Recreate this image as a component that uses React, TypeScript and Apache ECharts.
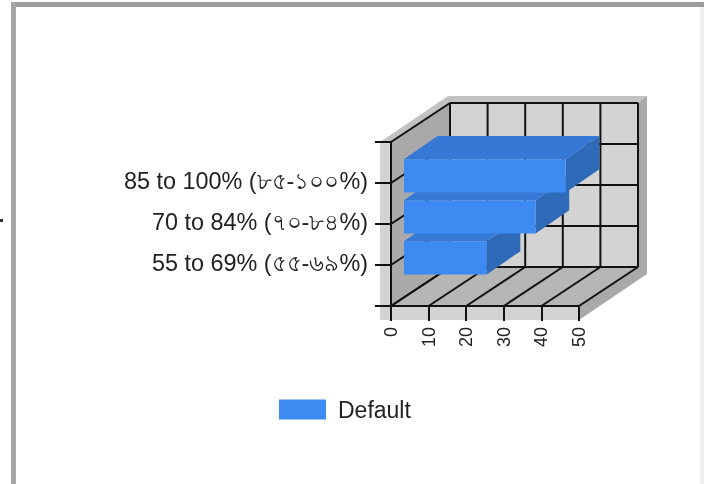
import React, { useEffect, useRef } from "react";
import * as echarts from "echarts";

const categories = ["", "55 to 69% (৫৫-৬৯%)", "70 to 84% (৭০-৮৪%)", "85 to 100% (৮৫-১০০%)", " "];
const seriesName = "Default";
const barValues = [22, 35, 43];
const barCategoryIndex = [1, 2, 3];
const xTicks = [0, 10, 20, 30, 40, 50];
const yTickIndex = [0, 1, 2, 3, 4];

const DX = 59;
const DY = -39;
const FONT = '"Liberation Sans", Arial, sans-serif';

function poly(points: number[][], fill: string) {
  return { type: "polygon", shape: { points }, style: { fill, stroke: "none" } };
}
function ln(a: number[], b: number[]) {
  return {
    type: "line",
    shape: { x1: a[0], y1: a[1], x2: b[0], y2: b[1] },
    style: { stroke: "#111", lineWidth: 2 },
  };
}

function renderFrame(_p: any, api: any) {
  const tl = api.coord([0, 4]);
  const bl = api.coord([0, 0]);
  const br = api.coord([50, 0]);
  const off = (p: number[], k = 1) => [p[0] + DX * k, p[1] + DY * k];
  const children: any[] = [
    poly([[tl[0] - 11, tl[1]], [tl[0], tl[1]], [bl[0], bl[1] + 14], [bl[0] - 11, bl[1] + 14]], "#d3d3d3"),
    poly([[bl[0] - 11, bl[1]], [br[0], br[1]], [br[0], br[1] + 14], [bl[0] - 11, bl[1] + 14]], "#d3d3d3"),
    poly(
      [
        [tl[0] - 11, tl[1]],
        [tl[0] + DX - 2, tl[1] + DY - 7],
        [br[0] + DX + 9, tl[1] + DY - 7],
        [br[0] + DX, tl[1] + DY],
        [tl[0] + DX, tl[1] + DY],
        [tl[0], tl[1]],
      ],
      "#c2c2c2",
    ),
    poly(
      [
        [br[0] + DX, tl[1] + DY],
        [br[0] + DX + 9, tl[1] + DY - 7],
        [br[0] + DX + 9, br[1] + DY + 7],
        [br[0], br[1] + 14],
        [br[0], br[1]],
        [br[0] + DX, br[1] + DY],
      ],
      "#a9a9a9",
    ),
    poly([tl, off(tl), off(bl), bl], "#a9a9a9"),
    poly([bl, off(bl), off(br), br], "#b6b6b6"),
    poly([off(tl), [br[0] + DX, tl[1] + DY], off(br), off(bl)], "#d3d3d3"),
  ];
  xTicks.forEach((v) => {
    const f = api.coord([v, 0]);
    const t = api.coord([v, 4]);
    children.push(ln(f, off(f)), ln(off(f), off(t)));
  });
  yTickIndex.forEach((i) => {
    const f = api.coord([0, i]);
    const r = api.coord([50, i]);
    children.push(ln(f, off(f)), ln(off(f), off(r)));
  });
  return { type: "group", children };
}

function renderBar(_p: any, api: any) {
  const value = api.value(0);
  const idx = api.value(1);
  const p0 = api.coord([0, idx]);
  const p1 = api.coord([value, idx]);
  const band = api.coord([0, idx])[1] - api.coord([0, idx + 1])[1];
  const h = band * 0.81;
  const k0 = 0.22;
  const x0 = p0[0] + DX * k0;
  const x1 = p1[0] + DX * k0;
  const cy = p0[1] + DY * k0 + 1.5;
  const top = cy - h / 2;
  const bot = cy + h / 2;
  const dx = DX * 0.57;
  const dy = DY * 0.6;
  return {
    type: "group",
    children: [
      poly([[x0, top], [x1, top], [x1 + dx, top + dy], [x0 + dx, top + dy]], "#3578d6"),
      poly([[x1, top], [x1 + dx, top + dy], [x1 + dx, bot + dy], [x1, bot]], "#2e6ab8"),
      poly([[x0, top], [x1, top], [x1, bot], [x0, bot]], "#3d8bf2"),
    ],
  };
}

export default function App() {
  const ref = useRef<HTMLDivElement>(null);
  useEffect(() => {
    document.body.style.margin = "0";
    const chart = echarts.init(ref.current!, null, { renderer: "svg" });
    chart.setOption({
      animation: false,
      backgroundColor: "#fff",
      grid: { left: 391, top: 142, width: 188, height: 164 },
      legend: {
        data: [seriesName],
        left: 274,
        top: 393,
        itemWidth: 47,
        itemHeight: 20,
        itemGap: 10,
        icon: "rect",
        textStyle: { fontFamily: FONT, fontSize: 23, color: "#222", padding: [0, 0, 0, 7] },
      },
      xAxis: {
        type: "value",
        min: 0,
        max: 50,
        interval: 10,
        z: 3,
        splitLine: { show: false },
        axisLine: { show: true, lineStyle: { color: "#111", width: 2 } },
        axisTick: { show: true, length: 15, lineStyle: { color: "#111", width: 2 } },
        axisLabel: { rotate: 90, margin: 21, fontFamily: FONT, fontSize: 18, color: "#222" },
      },
      yAxis: {
        type: "category",
        data: categories,
        boundaryGap: false,
        z: 3,
        splitLine: { show: false },
        axisLine: { show: true, lineStyle: { color: "#111", width: 2 } },
        axisTick: { show: true, length: 16, alignWithLabel: true, lineStyle: { color: "#111", width: 2 } },
        axisLabel: { interval: 0, margin: 23, fontFamily: FONT, fontSize: 23.4, color: "#222", lineHeight: 4, verticalAlign: "bottom" },
      },
      series: [
        {
          type: "custom",
          name: "frame",
          z: 1,
          silent: true,
          encode: { x: 0, y: 1 },
          data: [[0, 0]],
          renderItem: renderFrame,
        },
        {
          type: "custom",
          name: seriesName,
          z: 4,
          itemStyle: { color: "#3d8bf2" },
          encode: { x: 0, y: 1 },
          data: barValues.map((v, i) => [v, barCategoryIndex[i]]),
          renderItem: renderBar,
        },
      ],
      graphic: [
        { type: "rect", z: 10, shape: { x: 11, y: 2, width: 693, height: 5 }, style: { fill: "#9c9c9c" } },
        { type: "rect", z: 10, shape: { x: 11, y: 2, width: 5, height: 482 }, style: { fill: "#a6a6a6" } },
        { type: "rect", z: 10, shape: { x: 700, y: 7, width: 4, height: 477 }, style: { fill: "#eeeeee" } },
        { type: "rect", z: 10, shape: { x: 0, y: 219, width: 3, height: 3 }, style: { fill: "#333" } },
      ],
    });
    return () => chart.dispose();
  }, []);
  return <div ref={ref} style={{ position: "absolute", left: 0, top: 0, width: 711, height: 484, filter: "blur(0.5px)" }} />;
}
